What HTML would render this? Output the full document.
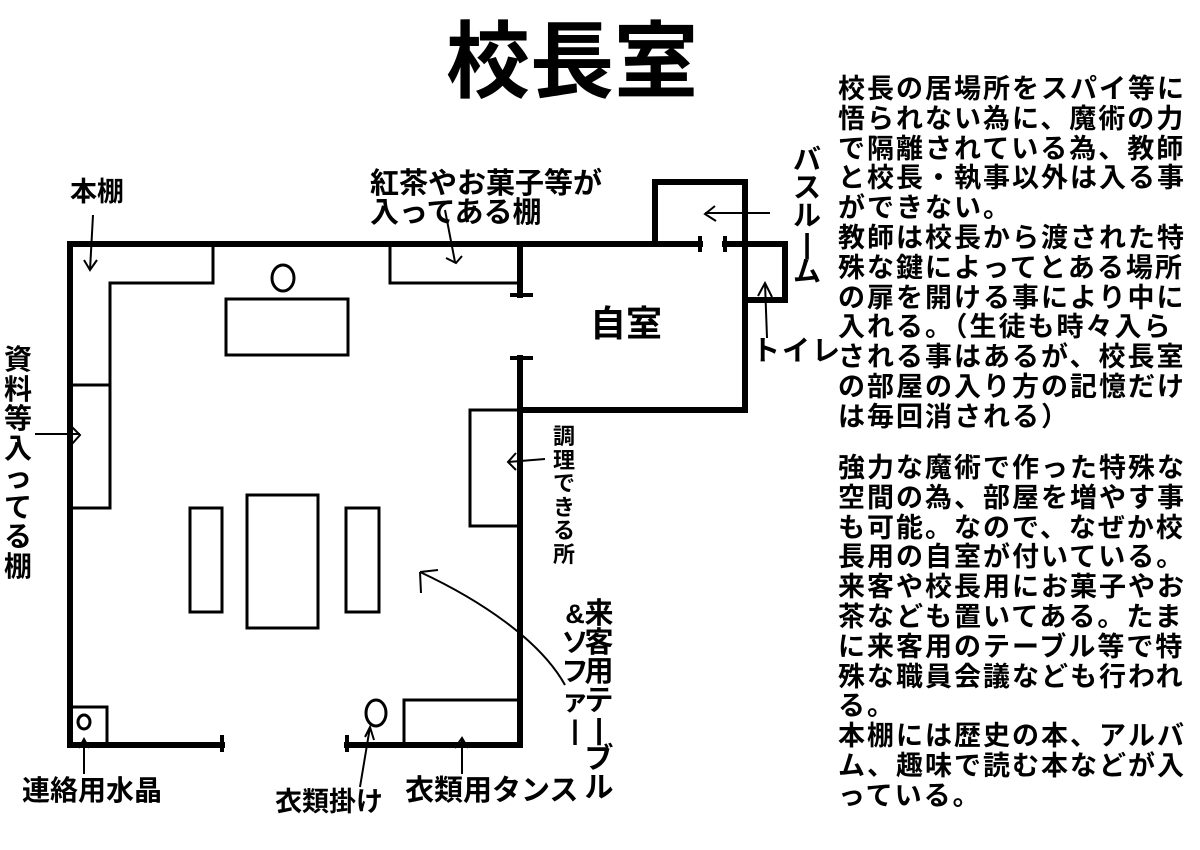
<!DOCTYPE html>
<html><head><meta charset="utf-8"><style>
html,body{margin:0;padding:0;background:#fff}
body{width:1200px;height:850px;position:relative;overflow:hidden;font-family:"Liberation Sans","Noto Sans CJK JP",sans-serif;font-weight:bold;color:#000}
.t{position:absolute;white-space:nowrap;line-height:1}
.v{position:absolute;line-height:1;text-align:center}
.p{position:absolute;left:838px;font-size:27px;letter-spacing:2px;line-height:29.8px;white-space:nowrap}
</style></head><body>
<svg width="1200" height="850" style="position:absolute;left:0;top:0">
<g stroke="#000" stroke-width="6" fill="none" stroke-linecap="square">
<path d="M70 244 H700 M725 244 H785 V300 H745"/>
<path d="M70 244 V745 H222"/>
<path d="M347 745 H520 V358"/>
<path d="M520 244 V295"/>
<path d="M520 410 H745 V182 H655 V244"/>
</g>
<g stroke="#000" stroke-width="4" fill="none">
<path d="M510 295 H533 M510 358 H533 M222 735 V752 M347 735 V752 M700 236 V252 M725 236 V252"/>
</g>
<g stroke="#000" stroke-width="3" fill="none">
<path d="M70 244 H213 V283 H110 V385 H70"/>
<rect x="70" y="385" width="40" height="123"/>
<rect x="390" y="244" width="130" height="39"/>
<rect x="226" y="299" width="122" height="56"/>
<rect x="470" y="410" width="50" height="116"/>
<rect x="190" y="508" width="32" height="104"/>
<rect x="247" y="495" width="71" height="133"/>
<rect x="346" y="508" width="33" height="104"/>
<rect x="70" y="707" width="37" height="38"/>
<rect x="404" y="700" width="116" height="45"/>
<ellipse cx="283" cy="278" rx="11" ry="13"/>
<ellipse cx="84" cy="722" rx="6" ry="7"/>
<ellipse cx="376" cy="713" rx="10" ry="13"/>
</g>
<g stroke="#000" stroke-width="2" fill="none">
<path d="M93 215 L90 270 M84 260 L90 270 L97 260"/>
<path d="M445 210 L455 262 M446 258 L456 263 L462 256"/>
<path d="M35 434 H80 M72 427 L80 435 L72 444"/>
<path d="M770 213 H705 M715 206 L705 214 L716 221"/>
<path d="M767 338 L765 283 M758 296 L765 283 L772 297"/>
<path d="M545 459 L508 462 M516 453 L508 462 L516 470"/>
<path d="M565 685 C540 640 480 600 420 572 M420 572 L421 593 M420 572 L438 570"/>
<path d="M84 774 V739 M79 748 L84 739 L89 748"/>
<path d="M360 787 L370 727 M365 737 L370 727 L374 740"/>
<path d="M462 774 V738 M455 748 L462 738 L468 748"/>
</g>
</svg>
<div class="t" style="left:446px;top:20px;font-size:84px">校長室</div>
<div class="t" style="left:70px;top:179px;font-size:27px">本棚</div>
<div class="t" style="left:370px;top:170px;font-size:29px">紅茶やお菓子等が</div>
<div class="t" style="left:370px;top:199px;font-size:29px">入ってある棚</div>
<div class="t" style="left:590px;top:306px;font-size:36px">自室</div>
<div class="t" style="left:752px;top:337px;font-size:28px;letter-spacing:2px">トイレ</div>
<div class="t" style="left:22px;top:777px;font-size:28px">連絡用水晶</div>
<div class="t" style="left:275px;top:789px;font-size:27px">衣類掛け</div>
<div class="t" style="left:405px;top:777px;font-size:29px">衣類用タンス</div>
<div class="v" style="left:792px;top:146px;width:30px;font-size:28px;line-height:28px">バ<br>ス<br>ル<br>|<br>ム</div>
<div class="v" style="left:3px;top:345px;width:30px;font-size:28px;line-height:29.5px">資<br>料<br>等<br>入<br>っ<br>て<br>る<br>棚</div>
<div class="v" style="left:551px;top:425px;width:26px;font-size:22px;line-height:23.5px">調<br>理<br>で<br>き<br>る<br>所</div>
<div class="v" style="left:584px;top:600px;width:30px;font-size:29px;line-height:29px">来<br>客<br>用<br>テ<br>|<br>ブ<br>ル</div>
<div class="v" style="left:561px;top:600px;width:28px;font-size:27px;line-height:29px">&amp;<br>ソ<br>フ<br>ァ<br>|</div>
<div class="p" style="top:75px">校長の居場所をスパイ等に<br>悟られない為に、魔術の力<br>で隔離されている為、教師<br>と校長・執事以外は入る事<br>ができない。<br>教師は校長から渡された特<br>殊な鍵によってとある場所<br>の扉を開ける事により中に<br>入れる。（生徒も時々入ら<br>される事はあるが、校長室<br>の部屋の入り方の記憶だけ<br>は毎回消される）</div>
<div class="p" style="top:454px">強力な魔術で作った特殊な<br>空間の為、部屋を増やす事<br>も可能。なので、なぜか校<br>長用の自室が付いている。<br>来客や校長用にお菓子やお<br>茶なども置いてある。たま<br>に来客用のテーブル等で特<br>殊な職員会議なども行われ<br>る。<br>本棚には歴史の本、アルバ<br>ム、趣味で読む本などが入<br>っている。</div>
</body></html>
